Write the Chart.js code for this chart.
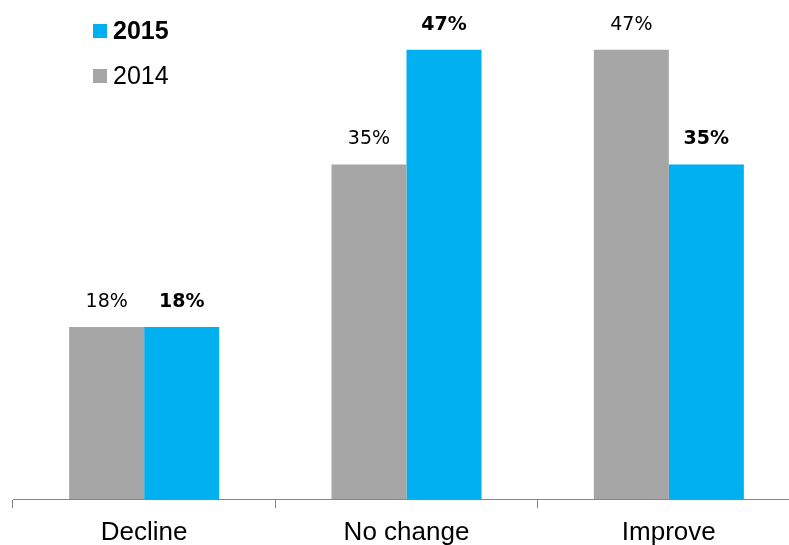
<!DOCTYPE html>
<html>
<head>
<meta charset="utf-8">
<script src="https://cdn.jsdelivr.net/npm/chart.js@4/dist/chart.umd.min.js"></script>
<style>
html,body{margin:0;padding:0;background:#fff;overflow:hidden;}
#wrap{position:absolute;left:0;top:0;width:801px;height:545px;}
</style>
</head>
<body>
<div id="wrap"><canvas id="c" width="801" height="545"></canvas></div>
<script>
const categories = ["Decline", "No change", "Improve"];
const values2014 = [18, 35, 47];
const values2015 = [18, 47, 35];
const seriesNames = ["2014", "2015"];

const GRAY = "#A6A6A6";
const BLUE = "#00B0F0";

const labelPlugin = {
  id: "valueLabels",
  afterDatasetsDraw(chart) {
    const ctx = chart.ctx;
    ctx.save();
    ctx.fillStyle = "#000";
    ctx.textAlign = "center";
    ctx.textBaseline = "alphabetic";
    chart.data.datasets.forEach((ds, i) => {
      const meta = chart.getDatasetMeta(i);
      ctx.font = (i === 1 ? "bold 19px" : "19px") + " 'DejaVu Sans'";
      meta.data.forEach((bar, j) => {
        ctx.fillText(ds.data[j] + "%", bar.x, bar.y - 20);
      });
    });
    ctx.restore();
  }
};

const legendPlugin = {
  id: "customLegend",
  afterDraw(chart) {
    const ctx = chart.ctx;
    ctx.save();
    ctx.textBaseline = "middle";
    ctx.textAlign = "left";
    ctx.fillStyle = BLUE;
    ctx.fillRect(93, 24, 14, 14);
    ctx.fillStyle = "#000";
    ctx.font = "bold 25px 'Liberation Sans', Arial";
    ctx.fillText(seriesNames[1], 113, 32);
    ctx.fillStyle = GRAY;
    ctx.fillRect(93, 69, 14, 14);
    ctx.fillStyle = "#000";
    ctx.font = "25px 'Liberation Sans', Arial";
    ctx.fillText(seriesNames[0], 113, 77);
    ctx.restore();
  }
};

new Chart(document.getElementById("c"), {
  type: "bar",
  data: {
    labels: categories,
    datasets: [
      { label: seriesNames[0], data: values2014, backgroundColor: GRAY },
      { label: seriesNames[1], data: values2015, backgroundColor: BLUE }
    ]
  },
  options: {
    responsive: false,
    animation: false,
    maintainAspectRatio: false,
    layout: { padding: { left: 13, right: 1, top: 21, bottom: 0 } },
    categoryPercentage: 0.572,
    barPercentage: 1.0,
    plugins: { legend: { display: false }, tooltip: { enabled: false } },
    scales: {
      x: {
        offset: true,
        border: { display: true, color: "#868686", width: 1 },
        grid: { display: true, offset: true, drawOnChartArea: false, drawTicks: true, tickLength: 9, color: "#868686" },
        ticks: { color: "#000", font: { family: "'Liberation Sans', Arial", size: 26 }, padding: 9 },
        afterFit(scale) { scale.height = 46; }
      },
      y: {
        display: false,
        min: 0,
        max: 50
      }
    }
  },
  plugins: [labelPlugin, legendPlugin]
});
</script>
</body>
</html>
